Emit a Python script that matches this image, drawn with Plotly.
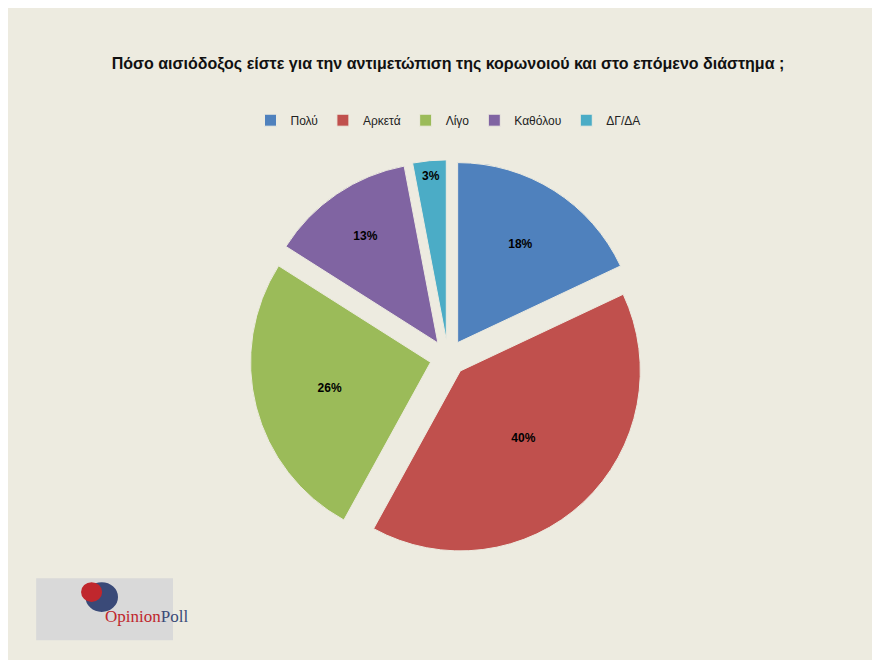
import plotly.graph_objects as go

labels = ["Πολύ", "Αρκετά", "Λίγο", "Καθόλου", "ΔΓ/ΔΑ"]
values = [18, 40, 26, 13, 3]
colors = ["#4F81BD", "#C0504D", "#9BBB59", "#8064A2", "#4BACC6"]

fig = go.Figure(go.Pie(
    labels=labels, values=values, sort=False, direction="clockwise", rotation=0,
    marker=dict(colors=colors, line=dict(color="#EDEBE0", width=1)),
    pull=[0.1, 0.1, 0.1, 0.1, 0.1],
    texttemplate="<b>%{percent:.0%}</b>", textposition="inside", insidetextorientation="horizontal",
    textfont=dict(color="black", size=12, family="Arial"),
    domain=dict(x=[0.1, 0.9], y=[0.17, 0.77]),
))
fig.update_layout(
    width=880, height=660, paper_bgcolor="#EDEBE0", plot_bgcolor="#EDEBE0",
    margin=dict(l=0, r=0, t=0, b=0),
    title=dict(text="<b>Πόσο αισιόδοξος είστε για την αντιμετώπιση της κορωνοιού και στο επόμενο διάστημα ;</b>",
               x=0.5, y=0.925, xanchor="center", font=dict(size=16, color="#111", family="Arial")),
    legend=dict(orientation="h", x=0.5, xanchor="center", y=0.83, yanchor="middle",
                font=dict(size=12, color="#222", family="Arial"), bgcolor="rgba(0,0,0,0)",
                itemwidth=30, tracegroupgap=0),
    shapes=[
        dict(type="rect", xref="paper", yref="paper", x0=0.032, x1=0.1875, y0=0.042, y1=0.136,
             fillcolor="#D9D9D9", line=dict(width=0)),
        dict(type="circle", xref="paper", yref="paper", x0=0.088, x1=0.125, y0=0.085, y1=0.13,
             fillcolor="#3A4A78", line=dict(width=0)),
        dict(type="circle", xref="paper", yref="paper", x0=0.083, x1=0.107, y0=0.1, y1=0.13,
             fillcolor="#C0272D", line=dict(width=0)),
    ],
    annotations=[dict(text="<span style='color:#C0272D'>Opinion</span><span style='color:#3A4A78'>Poll</span>",
                      xref="paper", yref="paper", x=0.108, y=0.06, showarrow=False,
                      font=dict(size=17, family="Liberation Serif"))],
)
fig.write_html("out.html")
